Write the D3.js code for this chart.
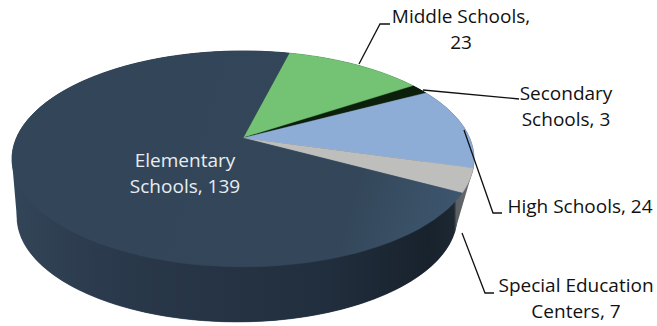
<!DOCTYPE html>
<html>
<head>
<meta charset="utf-8">
<script src="https://cdn.jsdelivr.net/npm/d3@7/dist/d3.min.js"></script>
<style>
  html, body { margin: 0; padding: 0; background: #fff; }
  svg { display: block; }
  text { font-family: "Open Sans", sans-serif; font-size: 19px; fill: #111; }
</style>
</head>
<body>
<svg id="chart" width="657" height="326"></svg>
<script>
// School counts by type, clockwise from the 14 degree mark.
const categories = ["Middle Schools", "Secondary Schools", "High Schools", "Special Education Centers", "Elementary Schools"];
const counts = [23, 3, 24, 7, 139];
const topColors = ["#74c274", "#0b1f0b", "#8eadd6", "#bebebc", "url(#topDark)"];
const sideColors = ["#4f8a4f", "#061006", "#5a7390", "url(#sideGray)", "url(#sideDark)"];

// Label text, one array per line group, with anchors and leader polylines.
const labelLines = [["Middle Schools,", "23"], ["Secondary", "Schools, 3"], ["High Schools, 24"], ["Special Education", "Centers, 7"], ["Elementary", "Schools, 139"]];
const labelAnchors = [[461, 23], [566, 100], [580, 213], [576, 292], [185, 167]];
const leaders = [
  [[359, 64], [380, 24], [390, 24]],
  [[423, 90], [519, 99]],
  [[464, 130], [493, 213], [502, 213]],
  [[462, 233], [485, 293], [494, 293]],
  []
];

const svg = d3.select("#chart");
const defs = svg.append("defs");

function gradient(id, x1, y1, x2, y2, stops) {
  const g = defs.append("linearGradient").attr("id", id)
    .attr("gradientUnits", "userSpaceOnUse")
    .attr("x1", x1).attr("y1", y1).attr("x2", x2).attr("y2", y2);
  stops.forEach(([o, c]) => g.append("stop").attr("offset", o).attr("stop-color", c));
}
gradient("topDark", 150, 120, 470, 210, [[0, "#334558"], [0.65, "#34475a"], [1, "#3e5870"]]);
gradient("sideDark", 10, 0, 475, 0, [[0, "#334558"], [0.22, "#2a394b"], [0.68, "#212e3d"], [0.9, "#18222d"], [0.955, "#1d2833"], [0.96, "#5c5f62"], [1, "#6a6c6e"]]);
gradient("sideGray", 0, 170, 0, 235, [[0, "#6e7072"], [1, "#505458"]]);

// Perspective disc: a unit circle seen from the front, with its centre
// projecting above the middle of the resulting ellipse.
const perspective = 0.194;
function projector(px, py, sx, sy) {
  return a => {
    const u = Math.sin(a), v = -Math.cos(a), w = 1 - perspective * v;
    return [px + sx * u / w, py + sy * v / w];
  };
}
const apex = [243, 138];
const topRim = projector(apex[0], apex[1], 226.6, 103.9);
const bottomRim = projector(237, 196.6, 215.8, 101);

const rad = d => d * Math.PI / 180;
const startAngle = rad(14);
const slices = d3.pie().sort(null).startAngle(startAngle).endAngle(startAngle + 2 * Math.PI)(counts);

// The wall's lower edge lags its upper edge on the right-hand flank.
const wallLag = d3.scaleLinear()
  .domain([14, 105.8, 118.7, 374].map(rad))
  .range([14, 100, 109.7, 374].map(rad));

const line = d3.line();
const sweep = (a0, a1) => d3.range(0, 1.0001, 1 / 90).map(t => a0 + (a1 - a0) * t);

// Outer silhouette of the solid, so the flanks run straight between the rims.
const fullTurn = sweep(0, 2 * Math.PI);
svg.append("path")
  .attr("d", line(d3.polygonHull([...fullTurn.map(topRim), ...fullTurn.map(bottomRim)])) + "Z")
  .attr("fill", "url(#sideDark)");

// Side wall next, the top face paints over whatever lies behind it.
svg.append("g").selectAll("path").data(slices).join("path")
  .attr("d", d => {
    const angles = sweep(d.startAngle, d.endAngle);
    return line([...angles.map(topRim), ...angles.reverse().map(a => bottomRim(wallLag(a)))]) + "Z";
  })
  .attr("fill", d => sideColors[d.index])
  .attr("stroke", d => sideColors[d.index])
  .attr("stroke-width", 0.6);

svg.append("g").selectAll("path").data(slices).join("path")
  .attr("d", d => line([apex, ...sweep(d.startAngle, d.endAngle).map(topRim)]) + "Z")
  .attr("fill", d => topColors[d.index])
  .attr("stroke", d => topColors[d.index])
  .attr("stroke-width", 0.4);

svg.append("g").selectAll("polyline").data(leaders.filter(l => l.length)).join("polyline")
  .attr("points", d => d.join(" "))
  .attr("fill", "none")
  .attr("stroke", "#111")
  .attr("stroke-width", 1.3);

const labels = svg.append("g").selectAll("text").data(labelLines).join("text")
  .attr("text-anchor", "middle")
  .style("fill", (d, i) => i === 4 ? "#e8edf2" : "#111")
  .attr("transform", (d, i) => `translate(${labelAnchors[i]})`);
labels.selectAll("tspan").data(d => d).join("tspan")
  .attr("x", 0)
  .attr("y", (d, i) => i * 25.5)
  .text(d => d);
</script>
</body>
</html>
